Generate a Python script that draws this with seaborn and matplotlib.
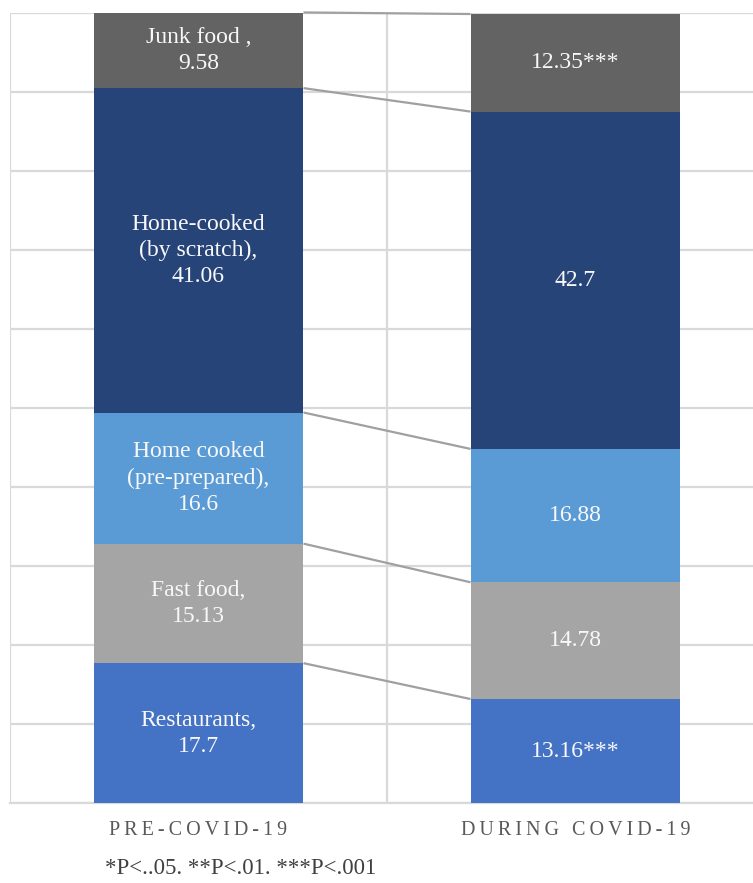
import numpy as np
import pandas as pd
import matplotlib
matplotlib.use("Agg")
import matplotlib.pyplot as plt
import seaborn as sns

# Meal sources, bottom to top of each stacked bar
periods = ["PRE-COVID-19", "DURING COVID-19"]
series = ["Restaurants", "Fast food", "Home cooked (pre-prepared)",
          "Home-cooked (by scratch)", "Junk food"]
pre_values = [17.7, 15.13, 16.6, 41.06, 9.58]
during_values = [13.16, 14.78, 16.88, 42.7, 12.35]
pre_labels = ["Restaurants,\n17.7", "Fast food,\n15.13",
              "Home cooked\n(pre-prepared),\n16.6",
              "Home-cooked\n(by scratch),\n41.06", "Junk food ,\n9.58"]
during_labels = ["13.16***", "14.78", "16.88", "42.7", "12.35***"]
colors = ["#4472C4", "#A5A5A5", "#5B9BD5", "#264478", "#636363"]
footnote = "*P<..05. **P<.01. ***P<.001"

sns.set_theme(style="white")
plt.rcParams["font.family"] = ["Liberation Serif", "DejaVu Serif"]

W, H = 753, 883
fig = plt.figure(figsize=(W / 100, H / 100), dpi=100)
# plot area spans x 10..764 px and y 13..803 px
ax = fig.add_axes([10 / W, 1 - 803 / H, 754 / W, 790 / H])

bar_w = 0.557
df = pd.DataFrame({"period": np.repeat(periods, len(series)),
                   "series": series * len(periods),
                   "value": pre_values + during_values})

bottom = np.zeros(len(periods))
tops = []
for i, s in enumerate(series):
    vals = np.array([pre_values[i], during_values[i]])
    sub = df[df["series"] == s]
    sns.barplot(data=sub, x="period", y="value", order=periods, color=colors[i],
                width=bar_w, bottom=bottom, errorbar=None, saturation=1,
                linewidth=0, ax=ax, zorder=3)
    mids = bottom + vals / 2
    ax.text(0, mids[0], pre_labels[i], ha="center", va="center",
            color="#F8F8F8", fontsize=17, zorder=5, linespacing=1.32)
    ax.text(1, mids[1], during_labels[i], ha="center", va="center",
            color="#F8F8F8", fontsize=17, zorder=5)
    bottom = bottom + vals
    tops.append(bottom.copy())

# series lines joining segment tops between the two bars
for t in tops:
    ax.plot([bar_w / 2, 1 - bar_w / 2], [t[0], t[1]], color="#A0A0A0",
            lw=1.6, zorder=2, solid_capstyle="butt", clip_on=False)

ax.set_xlim(-0.5, 1.5)
ax.set_ylim(0, 100)
ax.set_yticks(np.arange(0, 101, 10))
ax.yaxis.grid(True, color="#D9D9D9", lw=1.6, zorder=0)
for xv in [-0.5, 0.5, 1.5]:
    ax.axvline(xv, color="#D9D9D9", lw=1.6, zorder=0)
ax.set_axisbelow(True)
ax.set_xlabel("")
ax.set_ylabel("")

# category labels with widened letter spacing
sp = "\u2009"
ax.set_xticks([0, 1])
ax.set_xticklabels([sp.join(p) for p in periods], fontsize=14.5, color="#595959")
ax.tick_params(left=False, labelleft=False, bottom=False, pad=7)
for sp_name in ["top", "right", "left"]:
    ax.spines[sp_name].set_visible(False)
ax.spines["bottom"].set_color("#D9D9D9")
ax.spines["bottom"].set_linewidth(1.6)

fig.text(105 / W, 1 - 869 / H, footnote, ha="left", va="center",
         fontsize=16.5, color="#404040")

fig.savefig("out.png", dpi=100)
